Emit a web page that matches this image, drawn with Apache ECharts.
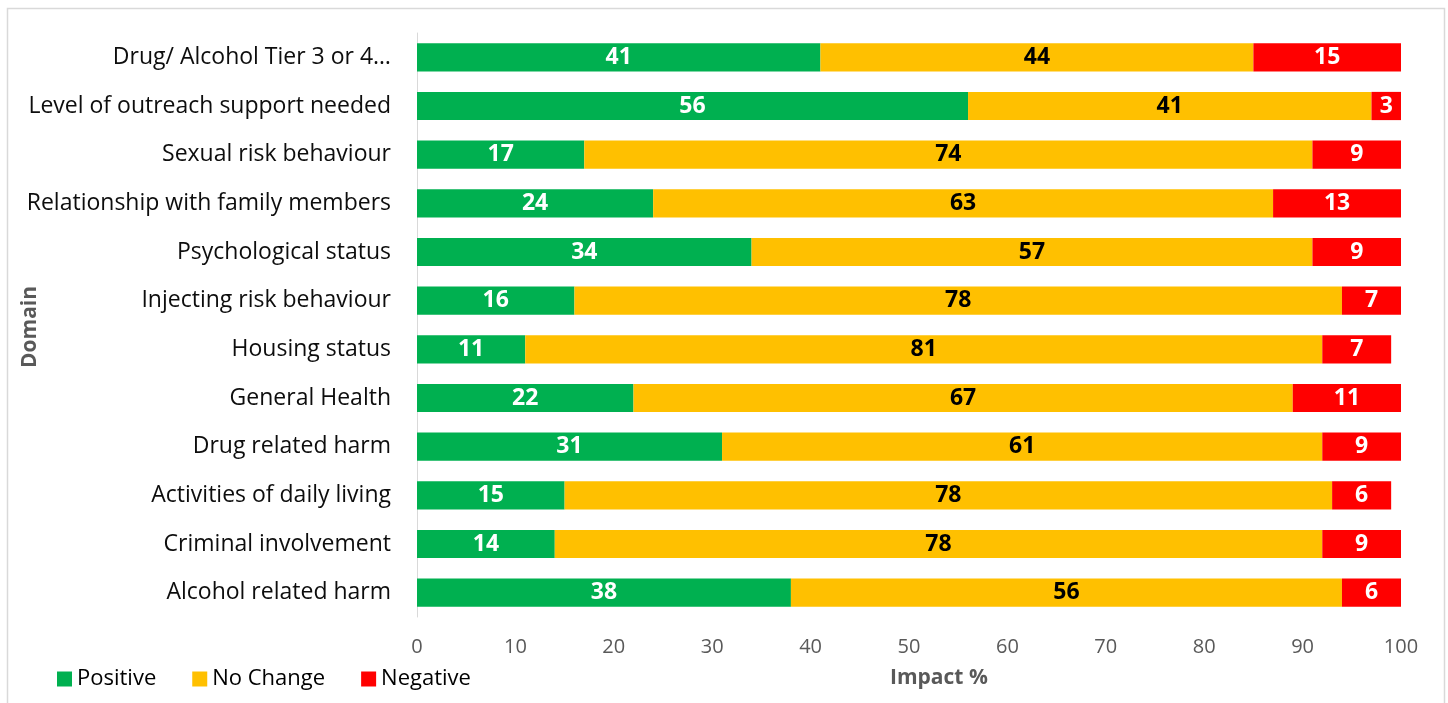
<!DOCTYPE html>
<html>
<head>
<meta charset="utf-8">
<script src="https://cdn.jsdelivr.net/npm/echarts@6/dist/echarts.min.js"></script>
<style>
html,body{margin:0;padding:0;background:#fff;}
#chart{width:1448px;height:703px;}
</style>
</head>
<body>
<div id="chart"></div>
<script>
const categories = [
  'Drug/ Alcohol Tier 3 or 4…',
  'Level of outreach support needed',
  'Sexual risk behaviour',
  'Relationship with family members',
  'Psychological status',
  'Injecting risk behaviour',
  'Housing status',
  'General Health',
  'Drug related harm',
  'Activities of daily living',
  'Criminal involvement',
  'Alcohol related harm'
];
const positive = [41, 56, 17, 24, 34, 16, 11, 22, 31, 15, 14, 38];
const noChange = [44, 41, 74, 63, 57, 78, 81, 67, 61, 78, 78, 56];
const negative = [15, 3, 9, 13, 9, 7, 7, 11, 9, 6, 9, 6];
const seriesNames = ['Positive', 'No Change', 'Negative'];

const FONT = '"Open Sans"';
const chart = echarts.init(document.getElementById('chart'), null, {renderer: 'canvas'});

function seg(name, data, color, labelColor) {
  return {
    name: name,
    type: 'bar',
    stack: 'total',
    data: data,
    barCategoryGap: '42%',
    itemStyle: {color: color},
    label: {
      show: true,
      position: 'inside',
      color: labelColor,
      fontFamily: FONT,
      fontWeight: 'bold',
      fontSize: 23
    },
    emphasis: {disabled: true}
  };
}

chart.setOption({
  animation: false,
  textStyle: {fontFamily: FONT},
  grid: {left: 417, right: 47, top: 33, bottom: 86, containLabel: false},
  legend: {
    left: 52,
    top: 663,
    itemWidth: 15,
    itemHeight: 15,
    itemGap: 36,
    icon: 'rect',
    textStyle: {fontFamily: FONT, fontSize: 22, color: '#000'},
    data: seriesNames
  },
  xAxis: {
    type: 'value',
    min: 0,
    max: 100,
    interval: 10,
    axisLine: {show: false},
    axisTick: {show: false},
    splitLine: {show: false},
    axisLabel: {fontFamily: FONT, fontSize: 20, color: '#595959', margin: 20}
  },
  yAxis: {
    type: 'category',
    data: categories,
    inverse: true,
    axisLine: {show: true, lineStyle: {color: '#d9d9d9', width: 1}},
    axisTick: {show: false},
    axisLabel: {fontFamily: FONT, fontSize: 23, color: '#0d0d0d', margin: 26}
  },
  graphic: [
    {type: 'rect', shape: {x: 7.5, y: 8.5, width: 1437, height: 710}, style: {fill: 'none', stroke: '#d9d9d9', lineWidth: 1.5}, silent: true},
    {type: 'text', left: 890, top: 668, style: {text: 'Impact %', fontFamily: FONT, fontSize: 21, fontWeight: 'bold', fill: '#595959'}},
    {type: 'text', x: 30, y: 327, rotation: Math.PI / 2, style: {text: 'Domain', fontFamily: FONT, fontSize: 21, fontWeight: 'bold', fill: '#595959', align: 'center', verticalAlign: 'middle'}}
  ],
  series: [
    seg(seriesNames[0], positive, '#00B050', '#ffffff'),
    seg(seriesNames[1], noChange, '#FFC000', '#000000'),
    seg(seriesNames[2], negative, '#FF0000', '#ffffff')
  ]
});
</script>
</body>
</html>
